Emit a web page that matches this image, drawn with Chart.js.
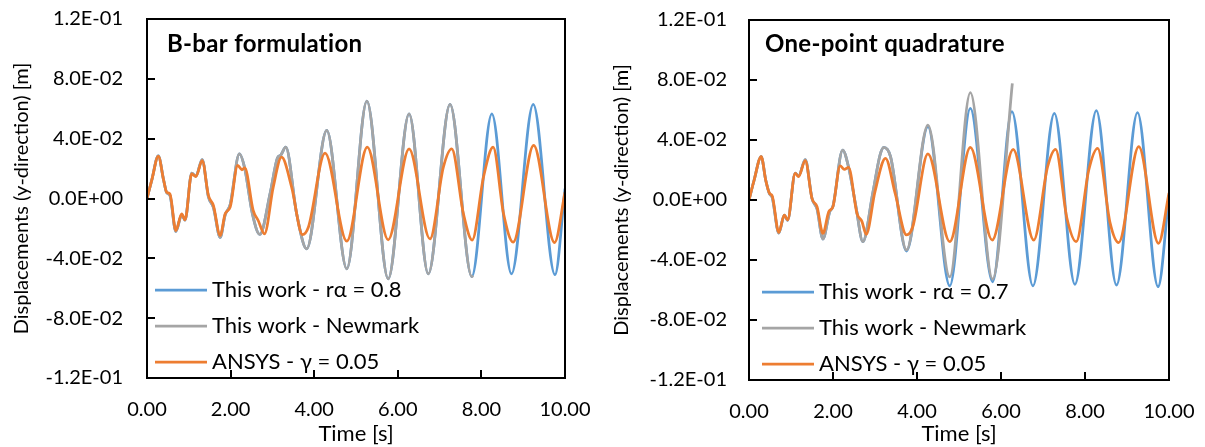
<!DOCTYPE html>
<html>
<head>
<meta charset="utf-8">
<script src="https://cdn.jsdelivr.net/npm/chart.js@4.4.0/dist/chart.umd.min.js"></script>
<style>
  html, body { margin: 0; padding: 0; background: #fff; }
  #wrap { position: relative; width: 1205px; height: 447px; }
  canvas { position: absolute; top: 0; }
</style>
</head>
<body>
<div id="wrap">
  <canvas id="chartLeft" width="600" height="447" style="left:0"></canvas>
  <canvas id="chartRight" width="605" height="447" style="left:600px"></canvas>
</div>
<script>
// ---- Left panel: B-bar formulation ----
const bbarBlueT = [0, 0.12, 0.27, 0.40, 0.47, 0.55, 0.69, 0.83, 0.91, 1.07, 1.17, 1.32, 1.47, 1.59, 1.75, 1.87, 1.99, 2.21, 2.34, 2.52, 2.70, 2.95, 3.12, 3.20, 3.32, 3.58, 3.82, 4.30, 4.78, 5.26, 5.77, 6.27, 6.73, 7.25, 7.77, 8.25, 8.72, 9.24, 9.76, 10.0];
const bbarBlueV = [0, 0.013, 0.0285, 0.012, 0.004, 0.002, -0.022, -0.011, -0.0145, 0.017, 0.015, 0.026, 0.001, -0.006, -0.026, -0.011, -0.004, 0.0299, 0.020, -0.010, -0.024, 0.004, 0.027, 0.029, 0.0343, -0.0102, -0.0337, 0.0455, -0.047, 0.0651, -0.0537, 0.0566, -0.0504, 0.0629, -0.0522, 0.0566, -0.0504, 0.0629, -0.0509, 0.0065];
const bbarGrayT = [0, 0.12, 0.27, 0.40, 0.47, 0.55, 0.69, 0.83, 0.91, 1.07, 1.17, 1.32, 1.47, 1.59, 1.75, 1.87, 1.99, 2.21, 2.34, 2.52, 2.70, 2.95, 3.12, 3.20, 3.32, 3.58, 3.82, 4.30, 4.78, 5.26, 5.77, 6.27, 6.73, 7.25, 7.77, 7.80];
const bbarGrayV = [0, 0.013, 0.0285, 0.012, 0.004, 0.002, -0.022, -0.011, -0.0145, 0.017, 0.015, 0.026, 0.001, -0.006, -0.026, -0.011, -0.004, 0.0299, 0.020, -0.010, -0.024, 0.004, 0.027, 0.029, 0.0343, -0.0102, -0.0337, 0.0455, -0.047, 0.0651, -0.0537, 0.0566, -0.0504, 0.0629, -0.0522, -0.0515];
const bbarAnsysT = [0, 0.12, 0.27, 0.40, 0.47, 0.55, 0.69, 0.83, 0.91, 1.07, 1.17, 1.32, 1.47, 1.59, 1.75, 1.87, 1.99, 2.17, 2.27, 2.34, 2.54, 2.66, 2.81, 3.02, 3.22, 3.46, 3.72, 3.86, 4.26, 4.78, 5.27, 5.77, 6.27, 6.77, 7.09, 7.29, 7.57, 7.78, 8.05, 8.28, 8.53, 8.76, 9.25, 9.75, 10.0];
const bbarAnsysV = [0, 0.013, 0.0281, 0.012, 0.0042, 0.003, -0.0214, -0.0102, -0.0143, 0.0165, 0.0147, 0.0254, 0.002, -0.0047, -0.0248, -0.0102, -0.0058, 0.0221, 0.0192, 0.0205, -0.008, -0.0147, -0.0236, 0.0076, 0.0276, 0.0076, -0.0241, -0.0192, 0.0303, -0.0285, 0.0343, -0.0276, 0.0332, -0.027, 0.021, 0.0332, -0.0102, -0.0278, 0.0143, 0.0343, -0.0102, -0.0292, 0.0355, -0.0295, 0.0042];

// ---- Right panel: One-point quadrature ----
const opqBlueT = [0, 0.12, 0.29, 0.40, 0.49, 0.55, 0.71, 0.84, 0.92, 1.10, 1.18, 1.34, 1.50, 1.62, 1.76, 1.92, 2.00, 2.23, 2.37, 2.55, 2.71, 2.95, 3.12, 3.21, 3.37, 3.75, 4.26, 4.78, 5.27, 5.80, 6.26, 6.76, 7.27, 7.76, 8.27, 8.75, 9.25, 9.74, 10.0];
const opqBlueV = [0, 0.013, 0.029, 0.013, 0.004, 0.002, -0.022, -0.010, -0.0135, 0.018, 0.016, 0.027, 0.001, -0.006, -0.026, -0.008, -0.004, 0.0333, 0.022, -0.005, -0.0278, 0.005, 0.030, 0.0351, 0.0289, -0.034, 0.049, -0.0573, 0.0611, -0.0545, 0.0589, -0.0573, 0.0578, -0.0562, 0.0596, -0.0567, 0.0582, -0.0578, 0.0033];
const opqGrayT = [0, 0.12, 0.29, 0.40, 0.49, 0.55, 0.71, 0.84, 0.92, 1.10, 1.18, 1.34, 1.50, 1.62, 1.76, 1.92, 2.00, 2.23, 2.37, 2.55, 2.71, 2.95, 3.12, 3.21, 3.37, 3.75, 4.26, 4.78, 5.27, 5.80, 6.27];
const opqGrayV = [0, 0.013, 0.029, 0.013, 0.004, 0.002, -0.022, -0.010, -0.0135, 0.018, 0.016, 0.027, 0.001, -0.006, -0.026, -0.008, -0.004, 0.0333, 0.022, -0.005, -0.0278, 0.005, 0.030, 0.0351, 0.0289, -0.0333, 0.050, -0.0513, 0.0716, -0.0527, 0.0778];
const opqAnsysT = [0, 0.12, 0.29, 0.40, 0.49, 0.55, 0.71, 0.84, 0.92, 1.10, 1.18, 1.34, 1.50, 1.62, 1.76, 1.90, 2.00, 2.17, 2.27, 2.37, 2.57, 2.69, 2.79, 3.00, 3.25, 3.48, 3.75, 3.90, 4.26, 4.78, 5.27, 5.79, 6.29, 6.78, 7.11, 7.30, 7.57, 7.79, 8.09, 8.30, 8.60, 8.80, 9.28, 9.75, 10.0];
const opqAnsysV = [0, 0.013, 0.0289, 0.013, 0.0044, 0.003, -0.0216, -0.010, -0.0133, 0.0178, 0.0156, 0.0262, 0.001, -0.0044, -0.0222, -0.0078, -0.0044, 0.0227, 0.0204, 0.0218, -0.0089, -0.0144, -0.0229, 0.0056, 0.0278, 0.0044, -0.0233, -0.0178, 0.0307, -0.0278, 0.0351, -0.0267, 0.0338, -0.0267, 0.0222, 0.0338, -0.0122, -0.0278, 0.020, 0.0344, -0.0156, -0.0284, 0.0356, -0.0289, 0.0047];

// ---- Axes ----
const yTicks = [-0.12, -0.08, -0.04, 0, 0.04, 0.08, 0.12];
const xTicks = [0, 2, 4, 6, 8, 10];

const BLUE = '#5B9BD5';
const GRAY = '#A5A5A5';
const ORANGE = '#ED7D31';
const FONT = 'Lato, "Open Sans", sans-serif';

const toPoints = (ts, vs) => ts.map((t, i) => ({ x: t, y: vs[i] }));

// y labels like 8.0E-02
const sciLabel = v => {
    if (Math.abs(v) < 1e-12) return '0.0E+00';
    const exp = Math.floor(Math.log10(Math.abs(v)) + 1e-9);
    const mant = (v / Math.pow(10, exp)).toFixed(1);
    const sign = exp < 0 ? '-' : '+';
    return mant + 'E' + sign + String(Math.abs(exp)).padStart(2, '0');
};

// keep label overflow from shrinking the plot box
const noOverflow = s => {
    s.paddingLeft = 0;
    s.paddingRight = 0;
    s.paddingTop = 0;
    s.paddingBottom = 0;
};

// box, inner tick marks, panel title and legend inside the plot
const panelDecor = {
    id: 'panelDecor',
    afterDatasetsDraw(chart, args, opts) {
        const { ctx, chartArea: a, scales } = chart;
        ctx.save();
        ctx.strokeStyle = '#000';
        ctx.lineWidth = 2;
        ctx.beginPath();
        scales.y.ticks.forEach(t => {
            const py = Math.round(scales.y.getPixelForValue(t.value));
            ctx.moveTo(a.left, py);
            ctx.lineTo(a.left + 8, py);
        });
        scales.x.ticks.forEach(t => {
            const px = Math.round(scales.x.getPixelForValue(t.value));
            ctx.moveTo(px, a.bottom);
            ctx.lineTo(px, a.bottom - 8);
        });
        ctx.stroke();
        ctx.strokeRect(a.left, a.top, a.right - a.left, a.bottom - a.top);

        // panel title
        ctx.fillStyle = '#000';
        ctx.font = 'bold 24px ' + FONT;
        ctx.letterSpacing = '0.3px';
        ctx.textBaseline = 'alphabetic';
        ctx.textAlign = 'left';
        ctx.fillText(opts.title, a.left + opts.titleDx, a.top + opts.titleDy);
        ctx.letterSpacing = '0px';

        // legend
        ctx.font = '22px ' + FONT;
        ctx.textBaseline = 'middle';
        chart.data.datasets.forEach((ds, i) => {
            const y = a.top + opts.legendDy + i * 36;
            ctx.strokeStyle = ds.borderColor;
            ctx.lineWidth = 2.75;
            ctx.beginPath();
            ctx.moveTo(a.left + opts.legendDx, y);
            ctx.lineTo(a.left + opts.legendDx + 52, y);
            ctx.stroke();
            ctx.fillText(ds.label, a.left + opts.legendDx + 57, y);
        });
        ctx.restore();
    }
};

const makePanel = (canvasId, series, labels, decor, yAxisWidth, layoutPad) => {
    const datasets = series.map((s, i) => ({
        label: labels[i],
        data: s.data,
        borderColor: s.color,
        borderWidth: 2.75,
        pointRadius: 0,
        fill: false,
        cubicInterpolationMode: 'monotone',
        order: 2 - i
    }));
    return new Chart(document.getElementById(canvasId), {
        type: 'line',
        data: { datasets },
        options: {
            responsive: false,
            animation: false,
            events: [],
            layout: { padding: { left: 0, top: layoutPad.top, right: layoutPad.right, bottom: 0 } },
            plugins: {
                legend: { display: false },
                tooltip: { enabled: false },
                panelDecor: decor
            },
            scales: {
                x: {
                    type: 'linear',
                    min: 0,
                    max: 10,
                    afterBuildTicks: s => { s.ticks = xTicks.map(v => ({ value: v })); },
                    afterFit: s => { s.height = layoutPad.xAxisH; noOverflow(s); },
                    grid: { display: false, drawTicks: false },
                    border: { display: false },
                    ticks: {
                        color: '#000',
                        font: { family: FONT, size: 20 },
                        padding: 20,
                        maxRotation: 0,
                        callback: v => v.toFixed(2)
                    },
                    title: {
                        display: true,
                        text: 'Time [s]',
                        color: '#000',
                        font: { family: FONT, size: 22 },
                        padding: 0
                    }
                },
                y: {
                    type: 'linear',
                    min: -0.12,
                    max: 0.12,
                    afterBuildTicks: s => { s.ticks = yTicks.map(v => ({ value: v })); },
                    afterFit: s => { s.width = yAxisWidth; noOverflow(s); },
                    grid: { display: false, drawTicks: false },
                    border: { display: false },
                    ticks: {
                        color: '#000',
                        font: { family: FONT, size: 20 },
                        padding: layoutPad.yLabelGap,
                        callback: v => sciLabel(v)
                    },
                    title: {
                        display: true,
                        text: 'Displacements (y-direction) [m]',
                        color: '#000',
                        font: { family: FONT, size: 20 },
                        padding: { top: 10, bottom: 0 }
                    }
                }
            }
        },
        plugins: [panelDecor]
    });
};

makePanel('chartLeft',
    [
        { data: toPoints(bbarBlueT, bbarBlueV), color: BLUE },
        { data: toPoints(bbarGrayT, bbarGrayV), color: GRAY },
        { data: toPoints(bbarAnsysT, bbarAnsysV), color: ORANGE }
    ],
    ['This work - r\u03B1 = 0.8', 'This work - Newmark', 'ANSYS - \u03B3 = 0.05'],
    { title: 'B-bar formulation', titleDx: 20, titleDy: 33, legendDx: 8, legendDy: 271 },
    147,
    { top: 19, right: 35, xAxisH: 69, yLabelGap: 24 }
);

makePanel('chartRight',
    [
        { data: toPoints(opqBlueT, opqBlueV), color: BLUE },
        { data: toPoints(opqGrayT, opqGrayV), color: GRAY },
        { data: toPoints(opqAnsysT, opqAnsysV), color: ORANGE }
    ],
    ['This work - r\u03B1 = 0.7', 'This work - Newmark', 'ANSYS - \u03B3 = 0.05'],
    { title: 'One-point quadrature', titleDx: 16, titleDy: 32, legendDx: 13, legendDy: 272 },
    149,
    { top: 20, right: 36, xAxisH: 67, yLabelGap: 22 }
);
</script>
</body>
</html>
